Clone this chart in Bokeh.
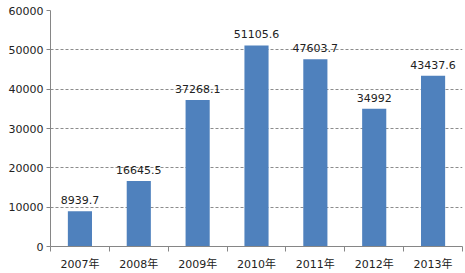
from bokeh.plotting import figure
from bokeh.models import ColumnDataSource, FixedTicker, Range1d, LabelSet
from bokeh.core.properties import value
from bokeh.embed import file_html
from bokeh.resources import INLINE

years = ["2007年", "2008年", "2009年", "2010年", "2011年", "2012年", "2013年"]
values = [8939.7, 16645.5, 37268.1, 51105.6, 47603.7, 34992, 43437.6]
value_labels = ["8939.7", "16645.5", "37268.1", "51105.6", "47603.7", "34992", "43437.6"]
y_ticks = [0, 10000, 20000, 30000, 40000, 50000, 60000]

xs = list(range(1, len(years) + 1))
src = ColumnDataSource(dict(x=xs, top=values, lbl=value_labels))

FONT = "DejaVu Sans, Noto Sans CJK SC"

p = figure(width=465, height=273, output_backend="svg", toolbar_location=None,
           x_range=Range1d(0.5, len(years) + 0.5), y_range=Range1d(0, 60000),
           min_border_left=50, min_border_right=3, min_border_top=10, min_border_bottom=25)
p.outline_line_color = None
p.background_fill_color = "white"
p.border_fill_color = "white"

p.vbar(x="x", top="top", width=0.41, bottom=0, source=src, color="#4F81BD", line_color=None)

labels = LabelSet(x="x", y="top", text="lbl", source=src, text_align="center",
                  text_baseline="bottom", y_offset=7, text_font_size=value("11px"),
                  text_color="#222222", text_font=value(FONT))
p.add_layout(labels)

# x axis
p.xaxis.ticker = FixedTicker(ticks=xs, minor_ticks=[i + 0.5 for i in range(0, len(years) + 1)])
p.xaxis.major_label_overrides = {i: y for i, y in zip(xs, years)}
p.xaxis.major_tick_line_color = None
p.xaxis.minor_tick_line_color = "#868686"
p.xaxis.minor_tick_out = 5
p.xaxis.minor_tick_in = 0
p.xaxis.axis_line_color = "#868686"
p.xaxis.major_label_text_font_size = "11px"
p.xaxis.major_label_text_font = FONT
p.xaxis.major_label_text_color = "#222222"
p.xaxis.major_label_standoff = 5

# y axis
p.yaxis.ticker = FixedTicker(ticks=y_ticks)
p.yaxis.axis_line_color = "#868686"
p.yaxis.major_tick_line_color = "#868686"
p.yaxis.major_tick_out = 4
p.yaxis.major_tick_in = 0
p.yaxis.minor_tick_line_color = None
p.yaxis.major_label_text_font_size = "11px"
p.yaxis.major_label_text_font = FONT
p.yaxis.major_label_text_color = "#222222"
p.yaxis.major_label_standoff = 3

p.xgrid.grid_line_color = None
p.ygrid.ticker = FixedTicker(ticks=y_ticks)
p.ygrid.grid_line_color = "#8c8c8c"
p.ygrid.grid_line_dash = "3 2"
p.ygrid.grid_line_width = 1

open("out.html", "w").write(file_html(p, INLINE))
